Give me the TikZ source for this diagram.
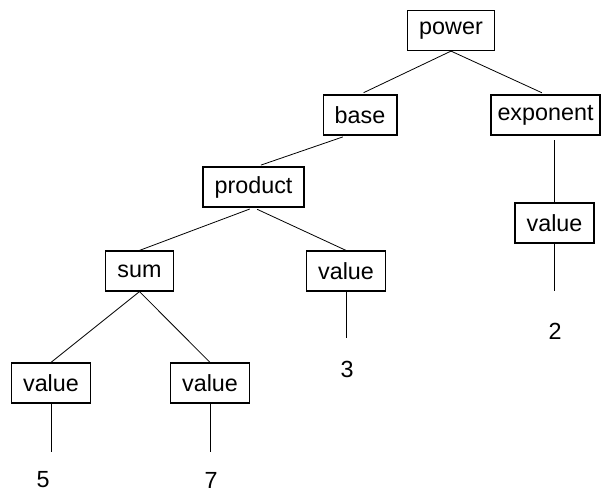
\documentclass[tikz,border=0pt]{standalone}
\usepackage{fontspec}
\setmainfont{Liberation Sans}
\begin{document}
\begin{tikzpicture}[x=0.75pt, y=-0.75pt,
        box/.style={draw, line width=0.9pt, minimum height=30pt, inner xsep=8.7pt, font=\fontsize{17.5pt}{21pt}\selectfont},
        num/.style={inner sep=0pt, font=\fontsize{17.5pt}{21pt}\selectfont},
        edge/.style={line width=0.6pt}]
        \useasboundingbox (0,0) rectangle (602,493);

        \node[box] (power) at (451,30.5) {power};
        \node[box] (base) at (360,115) {base};
        \node[box, inner xsep=4.9pt] (exponent) at (545.5,115) {exponent};
        \node[box] (product) at (253.5,187) {product};
        \node[box] (sum) at (139.5,271) {sum};
        \node[box] (valC) at (346,271) {value};
        \node[box] (valE) at (554.5,223) {value};
        \node[box] (valA) at (51,383) {value};
        \node[box] (valB) at (210,383) {value};

        \node[num] (n5) at (43,480) {5};
        \node[num] (n7) at (211,480) {7};
        \node[num] (n3) at (347,369) {3};
        \node[num] (n2) at (555,331) {2};

        \draw[edge, shorten >=3pt] (power.south) -- (base.north);
        \draw[edge, shorten >=3pt] (power.south) -- (exponent.north);
        \draw[edge, shorten <=3pt, shorten >=3pt] (base.237) -- (product.80);
        \draw[edge, shorten <=3pt] (product.south) -- (sum.north);
        \draw[edge, shorten <=3pt] (product.south) -- (valC.north);
        \draw[edge] (sum.south) -- (valA.north);
        \draw[edge] (sum.south) -- (valB.north);
        \draw[edge, shorten >=3pt] (valE.north) -- (valE.north |- exponent.south);

        \draw[edge, shorten >=15pt] (valA.south) -- (valA.south |- n5.north);
        \draw[edge, shorten >=15pt] (valB.south) -- (valB.south |- n7.north);
        \draw[edge, shorten >=16.5pt] (valC.south) -- (valC.south |- n3.north);
        \draw[edge, shorten >=24pt] (valE.south) -- (valE.south |- n2.north);
    \end{tikzpicture}
\end{document}
